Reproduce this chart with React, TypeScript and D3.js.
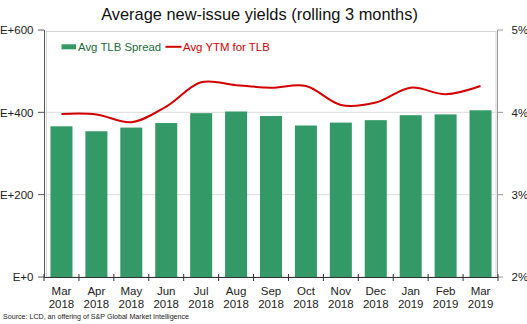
import React from "react";
import * as d3 from "d3";

const months = ["Mar", "Apr", "May", "Jun", "Jul", "Aug", "Sep", "Oct", "Nov", "Dec", "Jan", "Feb", "Mar"];
const years = ["2018", "2018", "2018", "2018", "2018", "2018", "2018", "2018", "2018", "2018", "2019", "2019", "2019"];
const spread = [366, 354, 363, 374, 398, 402, 391, 368, 375, 381, 393, 395, 405];
const ytm = [3.98, 3.975, 3.88, 4.07, 4.365, 4.33, 4.3, 4.32, 4.09, 4.12, 4.3, 4.22, 4.32];
const leftTicks = [0, 200, 400, 600];
const leftTickLabels = ["E+0", "E+200", "E+400", "E+600"];
const rightTicks = [2, 3, 4, 5];

const W = 527, H = 324;
const x0 = 44, x1 = 498, yTop = 30, yBot = 277;
const font = "Arial, 'Liberation Sans', sans-serif";

export default function App() {
  const idx = months.map((_, i) => String(i));
  const x = d3.scaleBand().domain(idx).range([x0, x1]).paddingInner(0.37).paddingOuter(0.185);
  const xb = d3.scaleLinear().domain([0, months.length]).range([x0, x1]);
  const yL = d3.scaleLinear().domain([0, 600]).range([yBot, yTop]);
  const yR = d3.scaleLinear().domain([2, 5]).range([yBot, yTop]);
  const line = d3.line<number>()
    .x((_, i) => (x(String(i)) as number) + x.bandwidth() / 2)
    .y((d) => yR(d))
    .curve(d3.curveCatmullRom.alpha(0.5));

  return (
    <svg width={W} height={H} style={{ position: "absolute", left: 0, top: 0, background: "#fff" }} fontFamily={font}>
      <text x={259.5} y={20} textAnchor="middle" fontSize={16.4} fill="#111">Average new-issue yields (rolling 3 months)</text>
      {/* frame */}
      <rect x={46.5} y={31.5} width={449.5} height={yBot - 31.5} fill="none" stroke="#d4d4d4" />
      {/* gridlines */}
      {[200, 400].map((v) => (
        <line key={v} x1={x0} x2={x1} y1={yL(v)} y2={yL(v)} stroke="#dcdcdc" />
      ))}
      {/* bars */}
      {spread.map((v, i) => (
        <rect key={i} x={x(String(i))} y={yL(v)} width={x.bandwidth()} height={yBot - yL(v)} fill="#339966" />
      ))}
      {/* line */}
      <path d={line(ytm) || ""} fill="none" stroke="#d40000" strokeWidth={2} />
      {/* left axis */}
      <line x1={x0 + 0.5} x2={x0 + 0.5} y1={yTop} y2={yBot} stroke="#555" />
      {leftTicks.map((v, i) => (
        <g key={v}>
          <line x1={38} x2={x0} y1={yL(v)} y2={yL(v)} stroke="#555" />
          <text x={33.5} y={yL(v) + 4.3} textAnchor="end" fontSize={11.5} fill="#222">{leftTickLabels[i]}</text>
        </g>
      ))}
      {/* right axis */}
      <line x1={x1 - 0.5} x2={x1 - 0.5} y1={yTop} y2={yBot} stroke="#999" />
      {rightTicks.map((v) => (
        <g key={v}>
          <line x1={x1} x2={x1 + 5} y1={yR(v)} y2={yR(v)} stroke="#999" />
          <text x={511.5} y={yR(v) + 4.3} textAnchor="start" fontSize={11.5} fill="#222">{v}%</text>
        </g>
      ))}
      {/* x axis */}
      <line x1={x0} x2={x1} y1={yBot + 0.5} y2={yBot + 0.5} stroke="#333" />
      {d3.range(months.length + 1).map((i) => (
        <line key={i} x1={xb(i)} x2={xb(i)} y1={yBot - 3} y2={yBot + 4} stroke="#333" />
      ))}
      {months.map((m, i) => {
        const cx = (x(String(i)) as number) + x.bandwidth() / 2;
        return (
          <g key={i}>
            <text x={cx} y={295} textAnchor="middle" fontSize={11.5} fill="#222">{m}</text>
            <text x={cx} y={308} textAnchor="middle" fontSize={11.5} fill="#222">{years[i]}</text>
          </g>
        );
      })}
      {/* legend */}
      <rect x={61.5} y={44.3} width={14.5} height={5} fill="#339966" />
      <text x={78} y={51} fontSize={11.4} fill="#1d6b3b">Avg TLB Spread</text>
      <line x1={165.5} x2={181.5} y1={46.8} y2={46.8} stroke="#d40000" strokeWidth={2} />
      <text x={183} y={51} fontSize={11.4} fill="#d40000">Avg YTM for TLB</text>
      {/* source */}
      <text x={3} y={319} fontSize={7} fill="#222" textLength={186} lengthAdjust="spacingAndGlyphs">Source: LCD, an offering of S&amp;P Global Market Intelligence</text>
    </svg>
  );
}
